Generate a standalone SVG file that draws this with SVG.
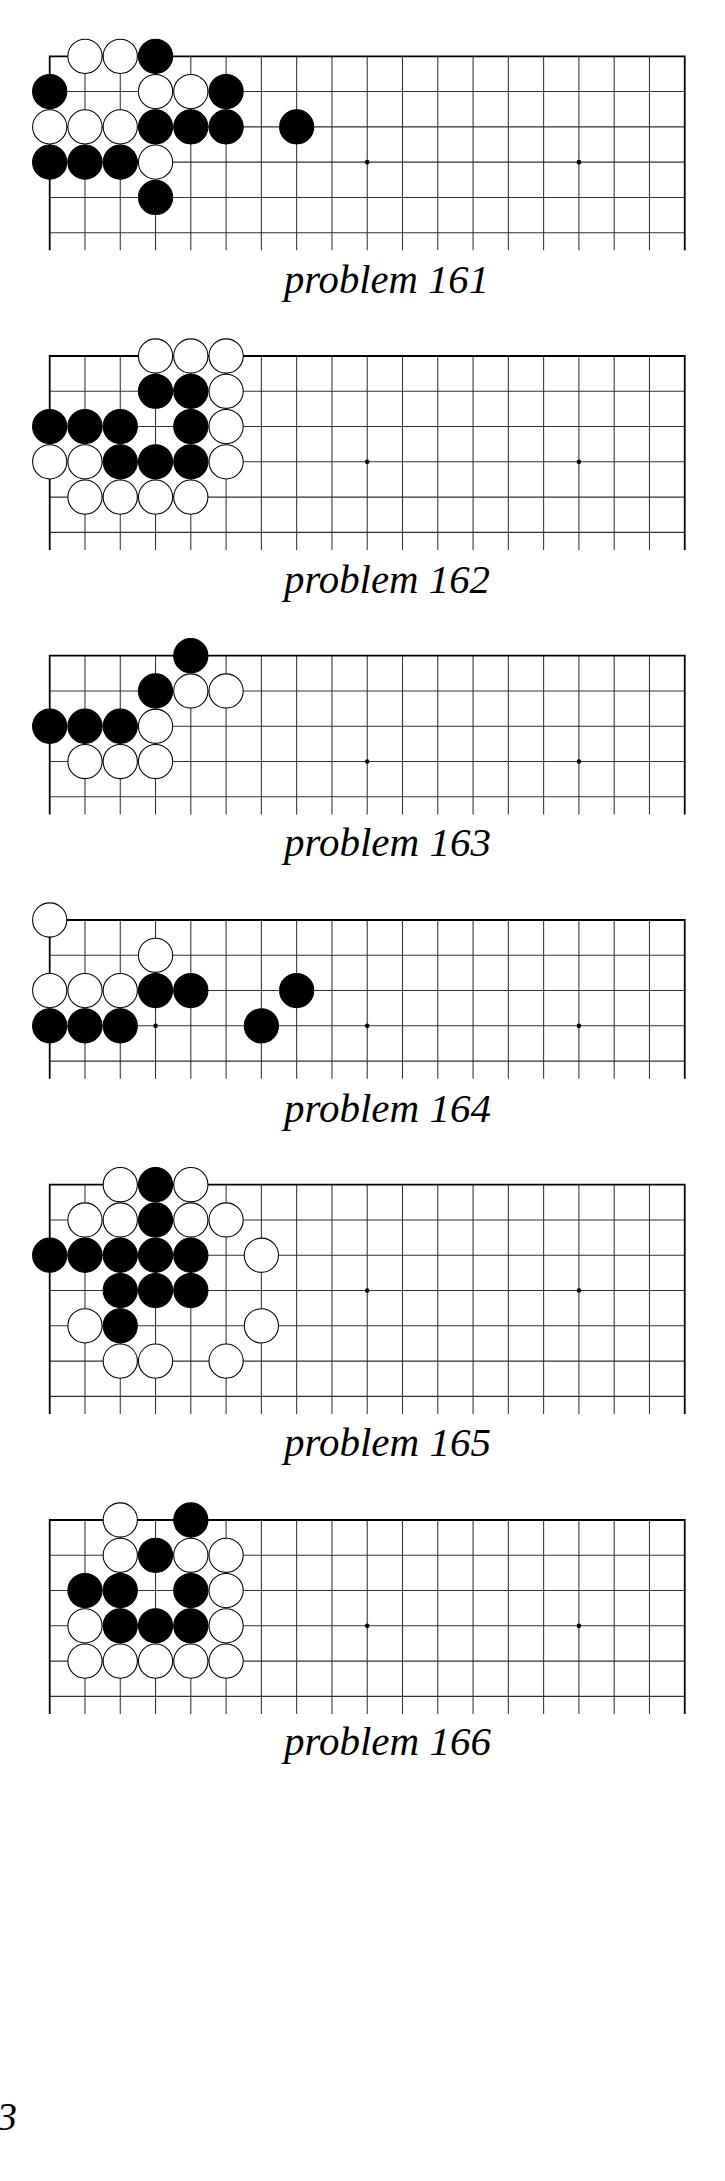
<svg xmlns="http://www.w3.org/2000/svg" xmlns:xlink="http://www.w3.org/1999/xlink" width="725" height="2181" viewBox="0 0 725 2181">
<style>
.bg{fill:#fff}
.in{fill:none;stroke:#333;stroke-width:0.03}
.edge{fill:none;stroke:#000;stroke-width:0.05;stroke-linejoin:miter}
.star{fill:#000}
.w{fill:#fff;stroke:#000;stroke-width:0.03}
.b{fill:#000;stroke:#000;stroke-width:0.03}
.cap{font-family:"Liberation Serif","DejaVu Serif",serif;font-style:italic;font-size:40px;fill:#000}
</style>
<defs>
<g id="grid5">
<path class="in" d="M0 1H18M0 2H18M0 3H18M0 4H18M1 0V4.5M2 0V4.5M3 0V4.5M4 0V4.5M5 0V4.5M6 0V4.5M7 0V4.5M8 0V4.5M9 0V4.5M10 0V4.5M11 0V4.5M12 0V4.5M13 0V4.5M14 0V4.5M15 0V4.5M16 0V4.5M17 0V4.5"/>
<path class="edge" d="M0 4.5V0H18V4.5"/>
<circle class="star" cx="3" cy="3" r="0.065"/><circle class="star" cx="9" cy="3" r="0.065"/><circle class="star" cx="15" cy="3" r="0.065"/>
</g>
<g id="grid6">
<path class="in" d="M0 1H18M0 2H18M0 3H18M0 4H18M0 5H18M1 0V5.5M2 0V5.5M3 0V5.5M4 0V5.5M5 0V5.5M6 0V5.5M7 0V5.5M8 0V5.5M9 0V5.5M10 0V5.5M11 0V5.5M12 0V5.5M13 0V5.5M14 0V5.5M15 0V5.5M16 0V5.5M17 0V5.5"/>
<path class="edge" d="M0 5.5V0H18V5.5"/>
<circle class="star" cx="3" cy="3" r="0.065"/><circle class="star" cx="9" cy="3" r="0.065"/><circle class="star" cx="15" cy="3" r="0.065"/>
</g>
<g id="grid7">
<path class="in" d="M0 1H18M0 2H18M0 3H18M0 4H18M0 5H18M0 6H18M1 0V6.5M2 0V6.5M3 0V6.5M4 0V6.5M5 0V6.5M6 0V6.5M7 0V6.5M8 0V6.5M9 0V6.5M10 0V6.5M11 0V6.5M12 0V6.5M13 0V6.5M14 0V6.5M15 0V6.5M16 0V6.5M17 0V6.5"/>
<path class="edge" d="M0 6.5V0H18V6.5"/>
<circle class="star" cx="3" cy="3" r="0.065"/><circle class="star" cx="9" cy="3" r="0.065"/><circle class="star" cx="15" cy="3" r="0.065"/>
</g>
</defs>
<rect class="bg" x="0" y="0" width="725" height="2181"/>

<g id="problem-161">
<g transform="translate(49.7 56.3) scale(35.28)">
<use xlink:href="#grid6"/>
<circle class="w" cx="1" cy="0" r="0.485"/><circle class="w" cx="2" cy="0" r="0.485"/><circle class="b" cx="3" cy="0" r="0.485"/>
<circle class="b" cx="0" cy="1" r="0.485"/><circle class="w" cx="3" cy="1" r="0.485"/><circle class="w" cx="4" cy="1" r="0.485"/><circle class="b" cx="5" cy="1" r="0.485"/>
<circle class="w" cx="0" cy="2" r="0.485"/><circle class="w" cx="1" cy="2" r="0.485"/><circle class="w" cx="2" cy="2" r="0.485"/><circle class="b" cx="3" cy="2" r="0.485"/><circle class="b" cx="4" cy="2" r="0.485"/><circle class="b" cx="5" cy="2" r="0.485"/><circle class="b" cx="7" cy="2" r="0.485"/>
<circle class="b" cx="0" cy="3" r="0.485"/><circle class="b" cx="1" cy="3" r="0.485"/><circle class="b" cx="2" cy="3" r="0.485"/><circle class="w" cx="3" cy="3" r="0.485"/>
<circle class="b" cx="3" cy="4" r="0.485"/>
</g>
<text class="cap" x="284" y="293.3" textLength="205" lengthAdjust="spacingAndGlyphs">problem 161</text>
</g>

<g id="problem-162">
<g transform="translate(49.7 356) scale(35.28)">
<use xlink:href="#grid6"/>
<circle class="w" cx="3" cy="0" r="0.485"/><circle class="w" cx="4" cy="0" r="0.485"/><circle class="w" cx="5" cy="0" r="0.485"/>
<circle class="b" cx="3" cy="1" r="0.485"/><circle class="b" cx="4" cy="1" r="0.485"/><circle class="w" cx="5" cy="1" r="0.485"/>
<circle class="b" cx="0" cy="2" r="0.485"/><circle class="b" cx="1" cy="2" r="0.485"/><circle class="b" cx="2" cy="2" r="0.485"/><circle class="b" cx="4" cy="2" r="0.485"/><circle class="w" cx="5" cy="2" r="0.485"/>
<circle class="w" cx="0" cy="3" r="0.485"/><circle class="w" cx="1" cy="3" r="0.485"/><circle class="b" cx="2" cy="3" r="0.485"/><circle class="b" cx="3" cy="3" r="0.485"/><circle class="b" cx="4" cy="3" r="0.485"/><circle class="w" cx="5" cy="3" r="0.485"/>
<circle class="w" cx="1" cy="4" r="0.485"/><circle class="w" cx="2" cy="4" r="0.485"/><circle class="w" cx="3" cy="4" r="0.485"/><circle class="w" cx="4" cy="4" r="0.485"/>
</g>
<text class="cap" x="284" y="593" textLength="206" lengthAdjust="spacingAndGlyphs">problem 162</text>
</g>

<g id="problem-163">
<g transform="translate(49.7 655.7) scale(35.28)">
<use xlink:href="#grid5"/>
<circle class="b" cx="4" cy="0" r="0.485"/>
<circle class="b" cx="3" cy="1" r="0.485"/><circle class="w" cx="4" cy="1" r="0.485"/><circle class="w" cx="5" cy="1" r="0.485"/>
<circle class="b" cx="0" cy="2" r="0.485"/><circle class="b" cx="1" cy="2" r="0.485"/><circle class="b" cx="2" cy="2" r="0.485"/><circle class="w" cx="3" cy="2" r="0.485"/>
<circle class="w" cx="1" cy="3" r="0.485"/><circle class="w" cx="2" cy="3" r="0.485"/><circle class="w" cx="3" cy="3" r="0.485"/>
</g>
<text class="cap" x="284" y="856" textLength="207" lengthAdjust="spacingAndGlyphs">problem 163</text>
</g>

<g id="problem-164">
<g transform="translate(49.7 920) scale(35.28)">
<use xlink:href="#grid5"/>
<circle class="w" cx="0" cy="0" r="0.485"/>
<circle class="w" cx="3" cy="1" r="0.485"/>
<circle class="w" cx="0" cy="2" r="0.485"/><circle class="w" cx="1" cy="2" r="0.485"/><circle class="w" cx="2" cy="2" r="0.485"/><circle class="b" cx="3" cy="2" r="0.485"/><circle class="b" cx="4" cy="2" r="0.485"/><circle class="b" cx="7" cy="2" r="0.485"/>
<circle class="b" cx="0" cy="3" r="0.485"/><circle class="b" cx="1" cy="3" r="0.485"/><circle class="b" cx="2" cy="3" r="0.485"/><circle class="b" cx="6" cy="3" r="0.485"/>
</g>
<text class="cap" x="284" y="1121.7" textLength="207" lengthAdjust="spacingAndGlyphs">problem 164</text>
</g>

<g id="problem-165">
<g transform="translate(49.7 1184.7) scale(35.28)">
<use xlink:href="#grid7"/>
<circle class="w" cx="2" cy="0" r="0.485"/><circle class="b" cx="3" cy="0" r="0.485"/><circle class="w" cx="4" cy="0" r="0.485"/>
<circle class="w" cx="1" cy="1" r="0.485"/><circle class="w" cx="2" cy="1" r="0.485"/><circle class="b" cx="3" cy="1" r="0.485"/><circle class="w" cx="4" cy="1" r="0.485"/><circle class="w" cx="5" cy="1" r="0.485"/>
<circle class="b" cx="0" cy="2" r="0.485"/><circle class="b" cx="1" cy="2" r="0.485"/><circle class="b" cx="2" cy="2" r="0.485"/><circle class="b" cx="3" cy="2" r="0.485"/><circle class="b" cx="4" cy="2" r="0.485"/><circle class="w" cx="6" cy="2" r="0.485"/>
<circle class="b" cx="2" cy="3" r="0.485"/><circle class="b" cx="3" cy="3" r="0.485"/><circle class="b" cx="4" cy="3" r="0.485"/>
<circle class="w" cx="1" cy="4" r="0.485"/><circle class="b" cx="2" cy="4" r="0.485"/><circle class="w" cx="6" cy="4" r="0.485"/>
<circle class="w" cx="2" cy="5" r="0.485"/><circle class="w" cx="3" cy="5" r="0.485"/><circle class="w" cx="5" cy="5" r="0.485"/>
</g>
<text class="cap" x="284" y="1456" textLength="207" lengthAdjust="spacingAndGlyphs">problem 165</text>
</g>

<g id="problem-166">
<g transform="translate(49.7 1520) scale(35.28)">
<use xlink:href="#grid6"/>
<circle class="w" cx="2" cy="0" r="0.485"/><circle class="b" cx="4" cy="0" r="0.485"/>
<circle class="w" cx="2" cy="1" r="0.485"/><circle class="b" cx="3" cy="1" r="0.485"/><circle class="w" cx="4" cy="1" r="0.485"/><circle class="w" cx="5" cy="1" r="0.485"/>
<circle class="b" cx="1" cy="2" r="0.485"/><circle class="b" cx="2" cy="2" r="0.485"/><circle class="b" cx="4" cy="2" r="0.485"/><circle class="w" cx="5" cy="2" r="0.485"/>
<circle class="w" cx="1" cy="3" r="0.485"/><circle class="b" cx="2" cy="3" r="0.485"/><circle class="b" cx="3" cy="3" r="0.485"/><circle class="b" cx="4" cy="3" r="0.485"/><circle class="w" cx="5" cy="3" r="0.485"/>
<circle class="w" cx="1" cy="4" r="0.485"/><circle class="w" cx="2" cy="4" r="0.485"/><circle class="w" cx="3" cy="4" r="0.485"/><circle class="w" cx="4" cy="4" r="0.485"/><circle class="w" cx="5" cy="4" r="0.485"/>
</g>
<text class="cap" x="284" y="1755" textLength="207" lengthAdjust="spacingAndGlyphs">problem 166</text>
</g>

<g id="connectors"></g>

<text id="page-number" class="cap" x="-3" y="2130">3</text>
</svg>
